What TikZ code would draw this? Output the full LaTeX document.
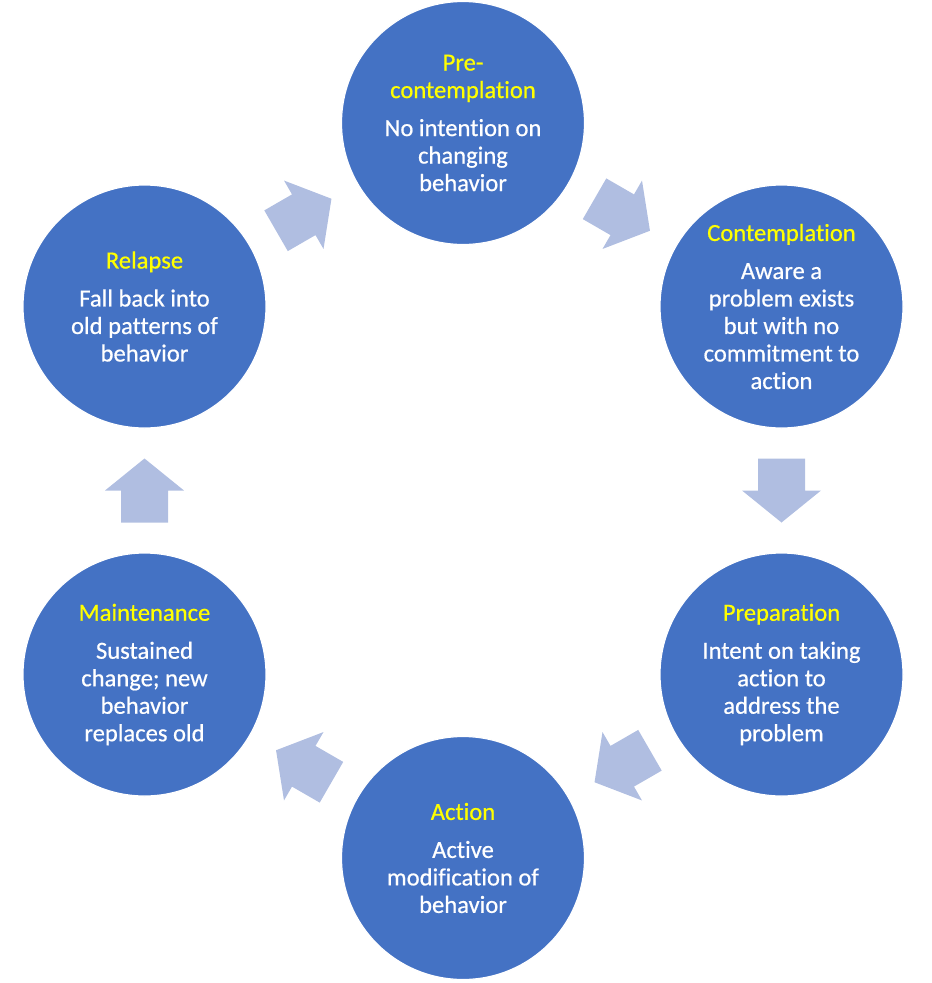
\documentclass[tikz,border=0pt]{standalone}
\usepackage{fontspec}
\setmainfont{Carlito}[Ligatures=NoCommon]
\newfontfamily\stagefont{Carlito}[Ligatures=NoCommon, FakeBold=0.6]
\usetikzlibrary{calc}
\definecolor{stageblue}{HTML}{4472C4}
\definecolor{arrowblue}{HTML}{B0BEE1}
\definecolor{ttlyellow}{HTML}{FFFF00}
\newcommand\ttl[1]{\textcolor{ttlyellow}{#1}}
\tikzset{
  stage/.style={circle, fill=stageblue, draw=white, line width=1.2pt, minimum size=243pt, inner sep=0pt,
    text=white, align=center, font=\stagefont\fontsize{24.6}{27.5}\selectfont}
}
\newcommand\blockarrow[3]{%
  \fill[arrowblue, shift={($(#1)!0.5!(#2)$)}, rotate=#3]
    (-32,-23.5) -- (0,-23.5) -- (0,-39.5) -- (32,0) -- (0,39.5) -- (0,23.5) -- (-32,23.5) -- cycle;}
\begin{document}
\begin{tikzpicture}[x=1pt,y=-1pt]
\useasboundingbox (0,0) rectangle (932,983);
\node[stage] (pre) at (463,123) {\ttl{Pre-}\\\ttl{contemplation}\\[10.5pt]No intention on\\changing\\behavior};
\node[stage] (con) at (781.5,306.5) {\ttl{Contemplation}\\[10.5pt]Aware a\\problem exists\\but with no\\commitment to\\action};
\node[stage] (prep) at (781.5,674.5) {\ttl{Preparation}\\[10.5pt]Intent on taking\\action to\\address the\\problem};
\node[stage] (act) at (463,858) {\ttl{Action}\\[10.5pt]Active\\modification of\\behavior};
\node[stage] (main) at (144.5,674.5) {\ttl{Maintenance}\\[10.5pt]Sustained\\change; new\\behavior\\replaces old};
\node[stage] (rel) at (144.5,306.5) {\ttl{Relapse}\\[10.5pt]Fall back into\\old patterns of\\behavior};
\blockarrow{pre}{con}{-30}
\blockarrow{con}{prep}{-90}
\blockarrow{prep}{act}{210}
\blockarrow{act}{main}{150}
\blockarrow{main}{rel}{90}
\blockarrow{rel}{pre}{30}
\end{tikzpicture}
\end{document}
